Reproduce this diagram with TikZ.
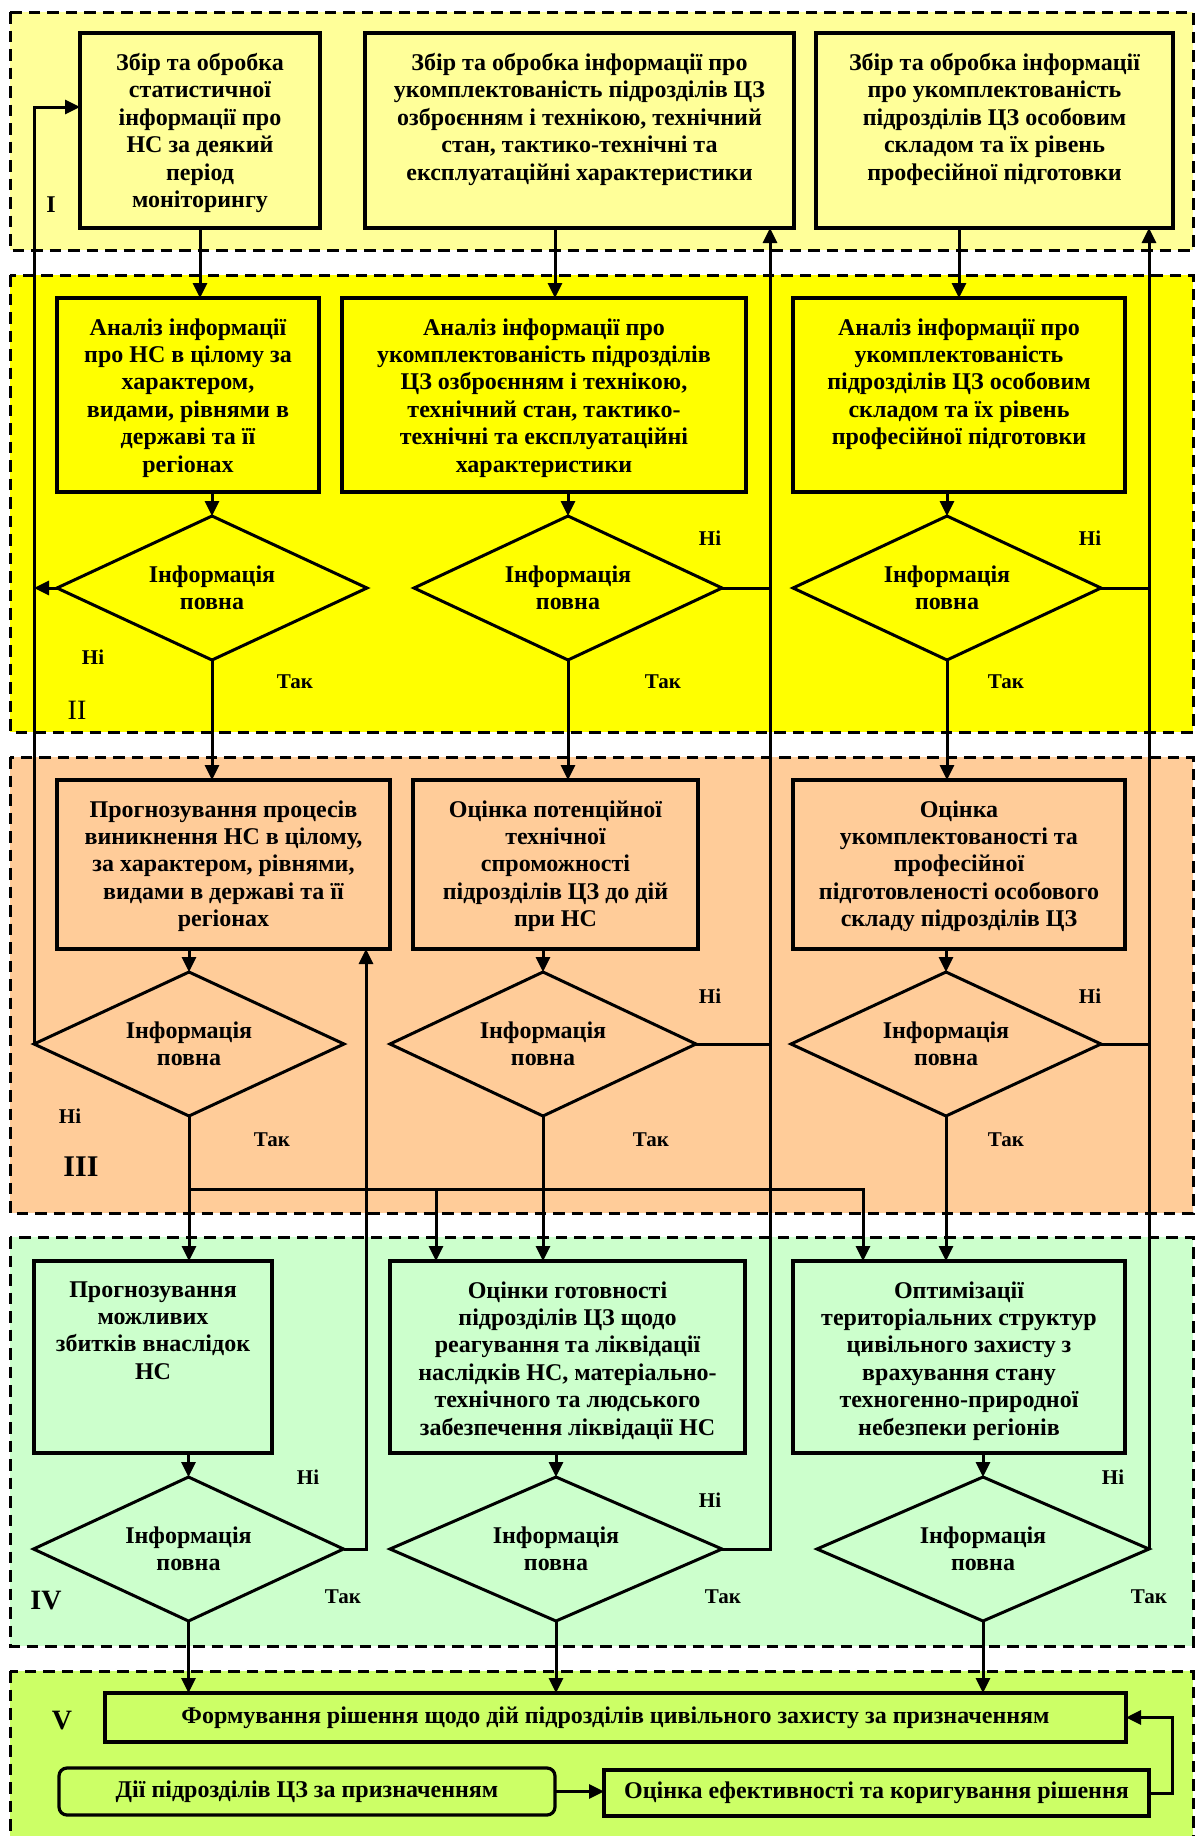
\documentclass[tikz,border=0pt]{standalone}
\usepackage{fontspec}
\setmainfont{Liberation Serif}
\usetikzlibrary{shapes.geometric,arrows.meta}
\definecolor{bandI}{HTML}{FFFF99}
\definecolor{bandII}{HTML}{FFFF00}
\definecolor{bandIII}{HTML}{FFCC99}
\definecolor{bandIV}{HTML}{CCFFCC}
\definecolor{bandV}{HTML}{CCFF66}
\begin{document}
\begin{tikzpicture}[x=0.5pt,y=-0.5pt,
  band/.style={draw=black, line width=1.5pt, dash pattern=on 5.75pt off 3.5pt},
  box/.style={draw=black, line width=1.6pt, inner sep=0pt, outer sep=0pt},
  txt/.style={font=\fontsize{12}{13.7}\selectfont\bfseries, align=center, inner sep=0pt, anchor=north},
  dec/.style={diamond, aspect=2.15, draw=black, line width=1.5pt, inner sep=0pt, outer sep=0pt, minimum height=72pt, align=center, font=\fontsize{12}{13.7}\selectfont\bfseries},
  yn/.style={font=\fontsize{10.5}{12}\selectfont\bfseries, inner sep=0pt},
  arr/.style={line width=1.5pt, -{Triangle[length=7.5pt,width=7pt]}},
  ln/.style={line width=1.5pt},
  wide/.style={box, font=\fontsize{12}{13.7}\selectfont\bfseries},
]
\useasboundingbox (0,0) rectangle (1195,1836);
\clip (0,0) rectangle (1195,1836);
\fill[white] (0,0) rectangle (1195,1836);

% bands
\path[band, fill=bandI] (10,12) rectangle (1193,250);
\path[band, fill=bandII] (10,275) rectangle (1193,732);
\path[band, fill=bandIII] (10,757) rectangle (1193,1213);
\path[band, fill=bandIV] (10,1237) rectangle (1193,1646);
\path[band, fill=bandV] (10,1671) rectangle (1193,1870);

% level I
\node[box, fill=bandI, minimum width=120pt, minimum height=97.5pt] (B1) at (200,130.5) {};
\node[txt] (B1t) at ([yshift=-10pt]B1.north) {Збір та обробка\\статистичної\\інформації про\\НС за деякий\\період\\моніторингу};
\node[box, fill=bandI, minimum width=214.5pt, minimum height=97.5pt] (B2) at (579.5,130.5) {};
\node[txt] (B2t) at ([yshift=-10pt]B2.north) {Збір та обробка інформації про\\укомплектованість підрозділів ЦЗ\\озброєнням і технікою, технічний\\стан, тактико-технічні та\\експлуатаційні характеристики};
\node[box, fill=bandI, minimum width=178.5pt, minimum height=97.5pt] (B3) at (994.5,130.5) {};
\node[txt] (B3t) at ([yshift=-10pt]B3.north) {Збір та обробка інформації\\про укомплектованість\\підрозділів ЦЗ особовим\\складом та їх рівень\\професійної підготовки};

% level II
\node[box, fill=bandII, minimum width=131pt, minimum height=97pt] (A1) at (188,395) {};
\node[txt] (A1t) at ([yshift=-10pt]A1.north) {Аналіз інформації\\про НС в цілому за\\характером,\\видами, рівнями в\\державі та її\\регіонах};
\node[box, fill=bandII, minimum width=202pt, minimum height=97pt] (A2) at (544,395) {};
\node[txt] (A2t) at ([yshift=-10pt]A2.north) {Аналіз інформації про\\укомплектованість підрозділів\\ЦЗ озброєнням і технікою,\\технічний стан, тактико-\\технічні та експлуатаційні\\характеристики};
\node[box, fill=bandII, minimum width=166pt, minimum height=97pt] (A3) at (959,395) {};
\node[txt] (A3t) at ([yshift=-10pt]A3.north) {Аналіз інформації про\\укомплектованість\\підрозділів ЦЗ особовим\\складом та їх рівень\\професійної підготовки};
\node[dec, fill=bandII, minimum width=155pt] (D1) at (212,588) {Інформація\\повна};
\node[dec, fill=bandII, minimum width=154pt] (D2) at (568,588) {Інформація\\повна};
\node[dec, fill=bandII, minimum width=154pt] (D3) at (947,588) {Інформація\\повна};

% level III
\node[box, fill=bandIII, minimum width=166.5pt, minimum height=84.5pt] (P1) at (223.5,864.5) {};
\node[txt] (P1t) at ([yshift=-10pt]P1.north) {Прогнозування процесів\\виникнення НС в цілому,\\за характером, рівнями,\\видами в державі та її\\регіонах};
\node[box, fill=bandIII, minimum width=142.5pt, minimum height=84.5pt] (P2) at (555.5,864.5) {};
\node[txt] (P2t) at ([yshift=-10pt]P2.north) {Оцінка потенційної\\технічної\\спроможності\\підрозділів ЦЗ до дій\\при НС};
\node[box, fill=bandIII, minimum width=166pt, minimum height=84.5pt] (P3) at (959,864.5) {};
\node[txt] (P3t) at ([yshift=-10pt]P3.north) {Оцінка\\укомплектованості та\\професійної\\підготовленості особового\\складу підрозділів ЦЗ};
\node[dec, fill=bandIII, minimum width=155pt] (D1p) at (189,1044) {Інформація\\повна};
\node[dec, fill=bandIII, minimum width=153pt] (D2p) at (543,1044) {Інформація\\повна};
\node[dec, fill=bandIII, minimum width=155pt] (D3p) at (946,1044) {Інформація\\повна};

% level IV
\node[box, fill=bandIV, minimum width=119pt, minimum height=96pt] (Q1) at (153,1357) {};
\node[txt] (Q1t) at ([yshift=-10pt]Q1.north) {Прогнозування\\можливих\\збитків внаслідок\\НС};
\node[box, fill=bandIV, minimum width=177.5pt, minimum height=96pt] (Q2) at (567.5,1357) {};
\node[txt] (Q2t) at ([yshift=-10pt]Q2.north) {Оцінки готовності\\підрозділів ЦЗ щодо\\реагування та ліквідації\\наслідків НС, матеріально-\\технічного та людського\\забезпечення ліквідації НС};
\node[box, fill=bandIV, minimum width=166pt, minimum height=96pt] (Q3) at (959,1357) {};
\node[txt] (Q3t) at ([yshift=-10pt]Q3.north) {Оптимізації\\територіальних структур\\цивільного захисту з\\врахування стану\\техногенно-природної\\небезпеки регіонів};
\node[dec, fill=bandIV, minimum width=155pt] (E1) at (188.5,1549) {Інформація\\повна};
\node[dec, fill=bandIV, minimum width=166pt] (E2) at (556,1549) {Інформація\\повна};
\node[dec, fill=bandIV, minimum width=166pt] (E3) at (983,1549) {Інформація\\повна};

% level V
\node[wide, fill=bandV, minimum width=510.5pt, minimum height=24.5pt] (F) at (615.5,1717.5) {Формування рішення щодо дій підрозділів цивільного захисту за призначенням};
\node[wide, fill=bandV, rounded corners=4pt, minimum width=248pt, minimum height=23.5pt] (G) at (307,1791.5) {Дії підрозділів ЦЗ за призначенням};
\node[wide, fill=bandV, minimum width=272.5pt, minimum height=23pt] (H) at (876.5,1793) {Оцінка ефективності та коригування рішення};

% connectors
\draw[arr] (B1.south) -- (B1.south |- A1.north);
\draw[arr] ([xshift=-12.25pt]B2.south) -- ([xshift=-12.25pt]B2.south |- A2.north);
\draw[arr] (A3.north |- B3.south) -- (A3.north);
\draw[arr] (D1.north |- A1.south) -- (D1.north);
\draw[arr] (D2.north |- A2.south) -- (D2.north);
\draw[arr] (D3.north |- A3.south) -- (D3.north);
\draw[arr] (D1.south) -- (D1.south |- P1.north);
\draw[arr] (D2.south) -- (D2.south |- P2.north);
\draw[arr] (D3.south) -- (D3.south |- P3.north);
\draw[arr] (D1p.north |- P1.south) -- (D1p.north);
\draw[arr] (D2p.north |- P2.south) -- (D2p.north);
\draw[arr] (D3p.north |- P3.south) -- (D3p.north);
\draw[arr] (D1p.south) -- (D1p.south |- Q1.north);
\draw[arr] (D2p.south) -- (D2p.south |- Q2.north);
\draw[arr] (D3p.south) -- (D3p.south |- Q3.north);
\draw[arr] (E1.north |- Q1.south) -- (E1.north);
\draw[arr] (E2.north |- Q2.south) -- (E2.north);
\draw[arr] (E3.north |- Q3.south) -- (E3.north);
\draw[arr] (E1.south) -- (E1.south |- F.north);
\draw[arr] (E2.south) -- (E2.south |- F.north);
\draw[arr] (E3.south) -- (E3.south |- F.north);

% left feedback
\draw[arr] (D1.west) -- (D1.west -| D1p.west);
\draw[arr] (D1p.west) |- ([yshift=11.75pt]B1.west);
% column 2 feedback
\coordinate (R2) at (770,0);
\draw[arr] (E2.east) -- (E2.east -| R2) -- (B2.south -| R2);
\draw[ln] (D2.east) -- (D2.east -| R2);
\draw[ln] (D2p.east) -- (D2p.east -| R2);
% column 3 feedback
\draw[arr] (E3.east) -- (B3.south -| E3.east);
\draw[ln] (D3.east) -- (D3.east -| E3.east);
\draw[ln] (D3p.east) -- (D3p.east -| E3.east);
% E1 back to P1
\coordinate (R1) at (366,0);
\draw[arr] (E1.east) -- (E1.east -| R1) -- (P1.south -| R1);
% distribution line
\coordinate (T0) at (189,1189);
\coordinate (T1) at (436,1189);
\coordinate (T2) at (863,1189);
\draw[arr] (T0) -- (T2) -- (T2 |- Q3.north);
\draw[arr] (T1) -- (T1 |- Q2.north);
% level V connectors
\draw[arr] (G.east) -- (G.east -| H.west);
\coordinate (RV) at (1172,0);
\draw[arr] (H.east) -- (H.east -| RV) |- (F.east);

% yes/no labels
\node[yn] (n1) at (93,657) {Ні};   \node[yn] (t1) at (295,682) {Так};
\node[yn] (n2) at (710,538) {Ні};  \node[yn] (t2) at (663,682) {Так};
\node[yn] (n3) at (1090,538) {Ні}; \node[yn] (t3) at (1006,682) {Так};
\node[yn] (n4) at (70,1116) {Ні};  \node[yn] (t4) at (272,1140) {Так};
\node[yn] (n5) at (710,996) {Ні};  \node[yn] (t5) at (651,1140) {Так};
\node[yn] (n6) at (1090,996) {Ні}; \node[yn] (t6) at (1006,1140) {Так};
\node[yn] (n7) at (308,1477) {Ні}; \node[yn] (t7) at (343,1597) {Так};
\node[yn] (n8) at (710,1500) {Ні}; \node[yn] (t8) at (723,1597) {Так};
\node[yn] (n9) at (1113,1477) {Ні};\node[yn] (t9) at (1149,1597) {Так};

% level labels
\node[font=\fontsize{12}{14}\selectfont\bfseries, inner sep=0pt] (L1) at (51,205) {I};
\node[font=\fontsize{14}{16}\selectfont, inner sep=0pt] (L2) at (77,710) {II};
\node[font=\fontsize{15}{17}\selectfont\bfseries, inner sep=0pt] (L3) at (81,1167) {III};
\node[font=\fontsize{14}{16}\selectfont\bfseries, inner sep=0pt] (L4) at (46,1601) {IV};
\node[font=\fontsize{14}{16}\selectfont\bfseries, inner sep=0pt] (L5) at (62,1721) {V};
\end{tikzpicture}
\end{document}
